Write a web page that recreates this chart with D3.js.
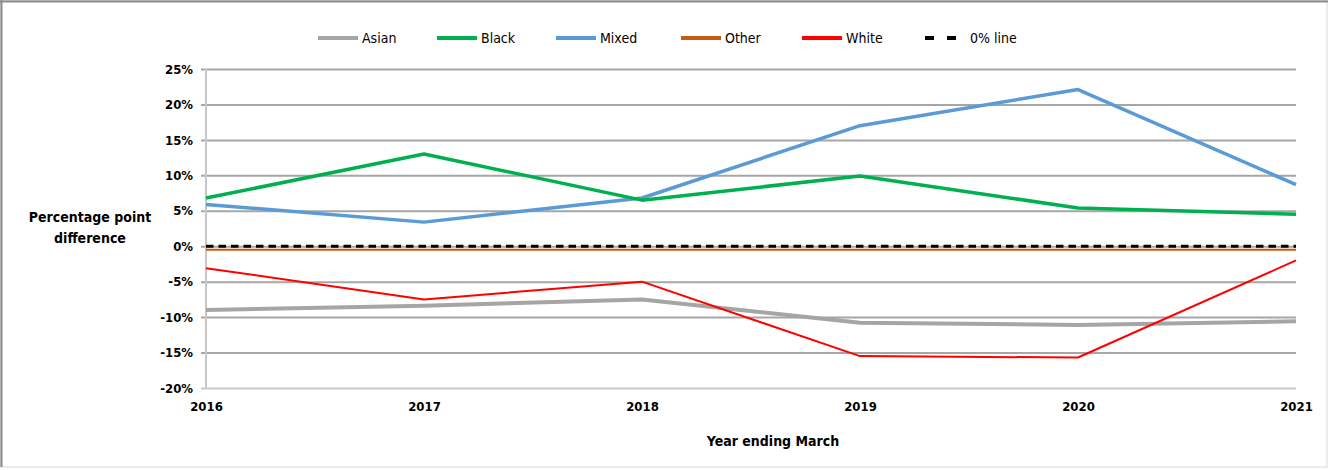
<!DOCTYPE html>
<html>
<head>
<meta charset="utf-8">
<script src="https://cdn.jsdelivr.net/npm/d3@7"></script>
<style>
  html, body { margin: 0; padding: 0; background: #fff; }
  svg { display: block; }
  text { font-family: "Liberation Sans Narrow", "DejaVu Sans Condensed", "Liberation Sans", Arial, sans-serif; fill: #000; }
</style>
</head>
<body>
<svg id="chart" width="1328" height="470"></svg>
<script>
// Year ending March
const years = ["2016", "2017", "2018", "2019", "2020", "2021"];

// Percentage point difference by ethnic group
const asian = [-9.0, -8.4, -7.5, -10.8, -11.1, -10.6];
const black = [6.8, 13.0, 6.5, 9.9, 5.4, 4.5];
const mixed = [5.9, 3.4, 6.8, 17.0, 22.1, 8.7];
const other = [-0.5, -0.5, -0.5, -0.5, -0.5, -0.5];
const white = [-3.1, -7.5, -5.0, -15.5, -15.7, -2.0];
const zeroLine = [0, 0, 0, 0, 0, 0];

const yTicks = [25, 20, 15, 10, 5, 0, -5, -10, -15, -20];

const series = [
  { name: "Asian", values: asian, color: "#a5a5a5", width: 4 },
  { name: "Black", values: black, color: "#00b050", width: 3.5 },
  { name: "Mixed", values: mixed, color: "#5b9bd5", width: 3.5 },
  { name: "Other", values: other, color: "#c55a11", width: 2 },
  { name: "White", values: white, color: "#ff0000", width: 2 },
  { name: "0% line", values: zeroLine, color: "#000000", width: 3, dash: "7.5,5" }
];

const svg = d3.select("#chart");

// outer frame
svg.append("rect").attr("x", 0.5).attr("y", 0.5).attr("width", 1326.5).attr("height", 466.5)
  .attr("fill", "none").attr("stroke", "#d9d9d9").attr("stroke-width", 1);
svg.append("line").attr("x1", 0).attr("x2", 1328).attr("y1", 1.5).attr("y2", 1.5)
  .attr("stroke", "#8c8c8c").attr("stroke-width", 2);
svg.append("line").attr("x1", 1.5).attr("x2", 1.5).attr("y1", 0).attr("y2", 467)
  .attr("stroke", "#8c8c8c").attr("stroke-width", 2);

const x = d3.scalePoint().domain(years).range([206, 1296]);
const y = d3.scaleLinear().domain([-20, 25]).range([388, 69]);

// horizontal gridlines
const grid = d3.axisLeft(y).tickValues(yTicks).tickSize(-(1296 - 201)).tickFormat("");
const gg = svg.append("g").attr("transform", "translate(201,0)").call(grid);
gg.select(".domain").remove();
gg.selectAll(".tick line").attr("stroke-width", 2)
  .attr("stroke", d => d === -20 ? "#c8c8c8" : "#a6a6a6");

// left axis line
svg.append("line").attr("x1", x(years[0])).attr("x2", x(years[0]))
  .attr("y1", y(25)).attr("y2", y(-20)).attr("stroke", "#c8c8c8").attr("stroke-width", 2);

// y tick labels
const yAxis = d3.axisLeft(y).tickValues(yTicks).tickSize(0).tickPadding(0).tickFormat(d => d + "%");
const ya = svg.append("g").attr("transform", "translate(193,0)").call(yAxis);
ya.select(".domain").remove();
ya.selectAll("text").attr("font-size", 13).attr("font-weight", "bold")
  .style("font-family", "'Liberation Sans Narrow', 'DejaVu Sans Condensed', Arial, sans-serif");

// x tick labels
const xAxis = d3.axisBottom(x).tickSize(0).tickPadding(0);
const xa = svg.append("g").attr("transform", "translate(0,402)").call(xAxis);
xa.select(".domain").remove();
xa.selectAll("text").attr("font-size", 13).attr("font-weight", "bold")
  .style("font-family", "'Liberation Sans Narrow', 'DejaVu Sans Condensed', Arial, sans-serif");

// axis titles
svg.append("text").attr("x", 773).attr("y", 446).attr("text-anchor", "middle")
  .attr("font-size", 14).attr("font-weight", "bold").text("Year ending March");
const yt = svg.append("text").attr("text-anchor", "middle").attr("font-size", 14).attr("font-weight", "bold");
yt.append("tspan").attr("x", 90).attr("y", 222).text("Percentage point");
yt.append("tspan").attr("x", 90).attr("y", 243).text("difference");

// series lines
const line = d3.line().x((d, i) => x(years[i])).y(d => y(d));
const drawOrder = ["0% line", "Other", "Asian", "White", "Mixed", "Black"];
drawOrder.forEach(n => {
  const s = series.find(e => e.name === n);
  svg.append("path").datum(s.values).attr("d", line)
    .attr("fill", "none").attr("stroke", s.color).attr("stroke-width", s.width)
    .attr("stroke-dasharray", s.dash || null).attr("stroke-linejoin", "round");
});

// legend
const legendX = [318, 437, 556, 681, 802, 925];
series.forEach((s, i) => {
  const g = svg.append("g").attr("transform", `translate(${legendX[i]},38)`);
  g.append("line").attr("x1", 0).attr("x2", s.dash ? 32 : 40).attr("y1", 0).attr("y2", 0)
    .attr("stroke", s.color).attr("stroke-width", 4)
    .attr("stroke-dasharray", s.dash ? "9,13" : null);
  g.append("text").attr("x", s.dash ? 45 : 44).attr("y", 5).attr("font-size", 14).text(s.name);
});
</script>
</body>
</html>
